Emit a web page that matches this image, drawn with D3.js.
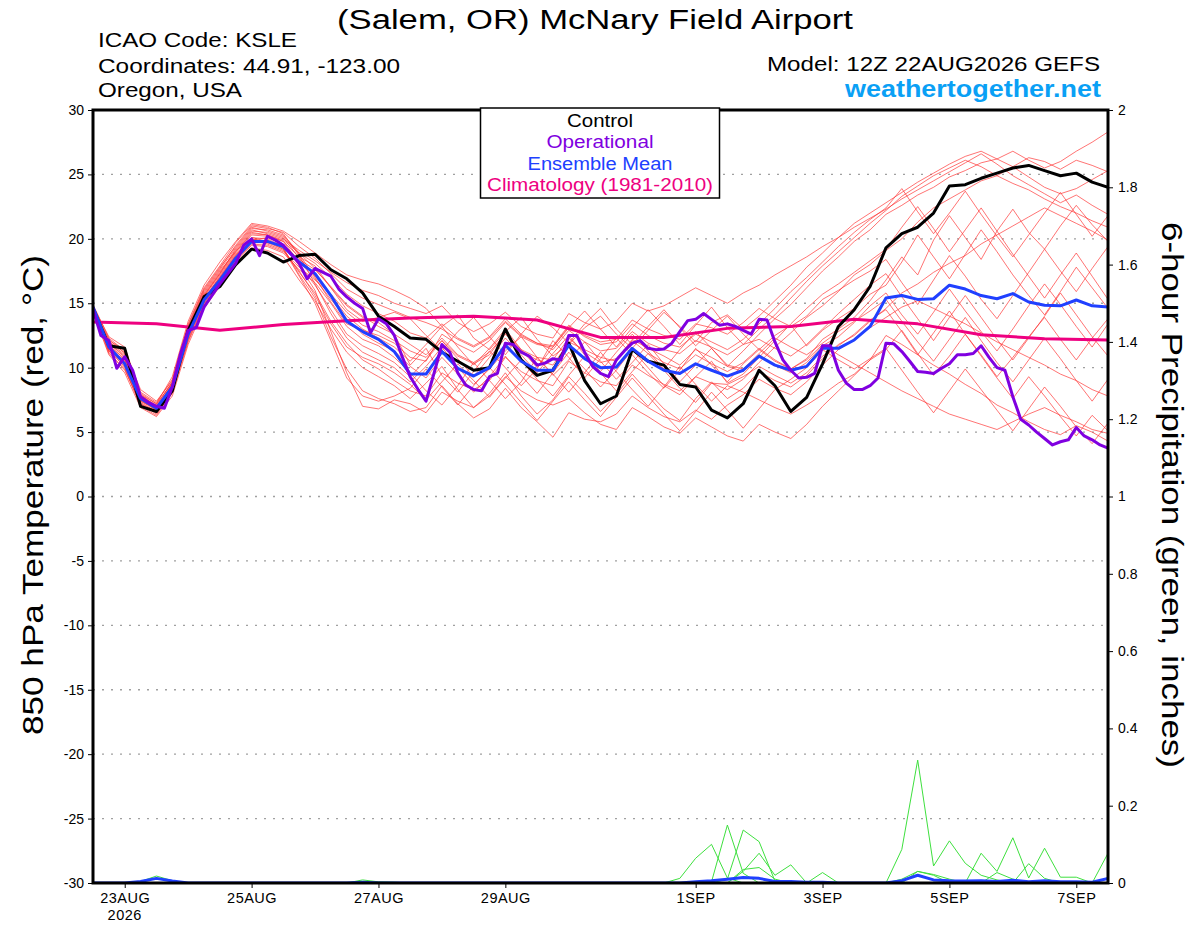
<!DOCTYPE html>
<html>
<head>
<meta charset="utf-8">
<script src="https://cdn.jsdelivr.net/npm/d3@7"></script>
<style>
  body { margin: 0; background: #fff; }
  svg { font-family: "Liberation Sans", Arial, Helvetica, sans-serif; }
</style>
</head>
<body>
<div id="svgContainer"></div>
<script>
// 6-hourly values from 12Z 22AUG2026 to 12Z 7SEP2026 (65 points)
var control = [14.6,11.7,11.5,7.0,6.6,8.2,12.9,15.5,16.3,18.0,
  19.2,18.9,18.2,18.7,18.8,17.6,16.9,15.8,14.0,13.2,
  12.3,12.2,11.2,10.5,9.8,10.0,13.0,10.6,9.4,9.8,
  11.9,9.0,7.2,7.8,11.4,10.5,10.2,8.7,8.5,6.7,
  6.1,7.2,9.8,8.6,6.6,7.7,10.3,13.2,14.5,16.3,
  19.3,20.4,20.9,22.0,24.1,24.2,24.7,25.1,25.5,25.7,
  25.3,24.9,25.1,24.4,24.0];

var ensembleMean = [14.7,11.6,10.3,7.6,6.85,8.5,12.6,15.25,16.8,18.5,
  19.8,19.8,19.4,18.2,17.3,15.6,13.6,12.8,12.2,11.25,
  9.5,9.5,11.25,9.95,9.35,10.0,11.75,10.5,9.8,9.8,
  11.75,10.7,10.0,10.05,11.5,10.5,9.8,9.55,10.3,9.8,
  9.35,9.8,10.9,10.2,9.8,10.1,11.5,11.5,12.15,13.2,
  15.4,15.6,15.3,15.35,16.4,16.1,15.6,15.35,15.75,15.1,
  14.85,14.8,15.25,14.8,14.7];

// operational run is 3-hourly (129 points)
var operational = [14.5,12.5,12.1,9.95,10.85,9.8,7.75,7.3,7.0,6.85,
  8.5,11.0,12.9,13.1,14.7,15.6,16.5,17.3,18.1,19.5,
  20.0,18.7,20.2,19.9,19.5,18.8,18.1,16.9,17.7,17.4,
  17.1,16.1,15.5,15.0,14.6,12.7,13.8,13.4,12.5,10.85,
  9.3,8.3,7.4,9.55,11.8,11.2,9.6,8.65,8.3,8.2,
  9.3,9.55,11.9,11.8,11.2,10.9,10.2,10.35,10.7,10.6,
  12.5,12.5,11.2,10.1,9.55,9.3,10.6,11.3,11.9,12.1,
  11.5,11.4,11.45,11.9,12.8,13.65,13.75,14.2,13.75,13.3,
  13.4,13.2,12.9,12.6,13.75,13.7,12.0,10.6,9.8,9.2,
  9.25,9.55,11.7,11.7,9.8,8.8,8.3,8.3,8.6,9.2,
  11.9,11.85,11.25,10.5,9.7,9.65,9.55,9.95,10.3,11.0,
  11.0,11.1,11.7,10.8,10.0,9.8,7.75,6.0,5.55,5.0,
  4.5,4.0,4.25,4.4,5.35,4.7,4.4,4.0,3.75];

// daily climatology at 12Z
var climatology = [13.55,13.4,12.9,13.35,13.65,13.85,14.0,13.7,12.35,12.35,13.05,13.2,13.75,13.4,12.55,12.25,12.15];

var member01 = [14.5,12.0,11.0,7.5,6.8,8.8,13.0,15.8,17.5,19.0, 20.5,20.3,19.8,18.6,17.9,16.2,14.8,13.9,13.5,12.6, 11.8,11.0,12.3,11.0,10.4,11.2,12.6,11.3,10.6,10.2, 12.0,11.4,10.8,10.5,12.2,11.5,10.9,10.2,11.4,10.8, 10.1,11.3,12.6,13.8,14.9,16.2,17.5,18.6,19.8,20.7, 21.9,22.6,23.4,24.0,24.8,25.3,25.9,26.2,26.8,26.1, 25.5,26.0,26.8,27.5,28.3];
var member02 = [14.8,12.4,11.6,8.0,7.2,9.3,13.6,16.4,18.2,19.8, 21.2,21.0,20.6,19.8,18.9,18.0,17.2,16.8,16.5,16.0, 15.4,14.6,13.2,14.1,12.3,11.4,12.8,13.9,12.2,10.9, 11.8,13.1,14.0,12.6,11.5,12.9,14.3,13.2,12.0,13.5, 14.1,13.0,14.0,15.2,16.4,17.8,18.9,20.1,21.2,22.0, 22.8,23.6,24.4,25.1,25.8,26.4,26.8,26.2,25.6,24.8, 24.0,23.5,23.9,24.6,25.3];
var member03 = [14.6,11.3,10.1,7.2,6.4,8.1,12.2,15.0,16.6,18.4, 19.9,20.1,19.6,17.9,16.0,12.8,9.6,7.0,6.8,7.5, 7.2,6.5,8.1,7.4,6.9,7.8,9.3,8.2,7.5,7.1, 7.6,6.5,5.6,5.2,6.9,6.2,5.4,4.9,6.1,5.4, 4.7,4.3,5.6,5.0,4.5,5.6,7.0,8.2,9.4,10.6, 12.5,11.8,11.0,10.2,9.5,8.7,8.0,7.1,6.5,5.8, 5.2,4.8,5.5,5.0,4.3];
var member04 = [14.4,11.8,10.6,7.9,7.0,8.6,12.4,15.3,17.1,18.8, 20.1,19.8,19.2,17.4,15.8,13.6,11.9,10.6,9.9,9.0, 8.2,7.8,9.6,8.8,8.3,9.0,10.8,9.7,9.0,8.6, 10.5,9.6,8.9,8.6,10.2,9.4,8.7,8.2,9.3,8.8, 8.3,9.1,10.4,11.6,12.7,13.9,14.8,15.9,17.2,18.0, 19.1,20.0,21.3,22.4,23.1,23.8,24.5,24.9,25.6,26.3, 26.0,25.4,26.1,25.7,25.2];
var member05 = [14.7,11.2,9.8,7.3,6.6,8.4,12.9,15.4,17.0,18.7, 20.0,19.7,19.5,18.4,17.6,16.3,14.9,14.0,13.2,12.6, 10.2,11.5,9.4,8.1,9.7,11.3,10.0,8.6,9.9,12.1, 10.8,9.2,10.7,12.3,11.0,9.6,8.4,9.8,11.5,10.2, 8.9,10.3,11.4,10.5,9.9,10.7,12.2,13.0,13.9,15.2, 16.8,18.6,17.2,19.9,21.8,20.1,18.4,20.6,22.3,20.5, 19.2,21.0,22.6,21.1,19.8];
var member06 = [14.5,11.5,10.0,7.0,6.3,8.0,12.0,14.8,16.4,18.2, 19.5,19.4,18.9,17.6,16.6,15.0,13.2,12.2,11.7,10.8, 9.6,8.2,7.1,8.6,10.4,9.0,7.6,8.9,10.8,9.5, 8.1,9.6,11.2,9.7,8.3,7.0,8.5,10.1,8.7,7.4, 8.6,8.1,7.5,6.9,6.4,7.1,7.9,8.8,9.5,10.6, 11.4,12.9,11.1,9.4,10.9,12.6,11.0,9.3,10.8,12.4, 13.9,12.2,10.6,12.3,13.8];
var member07 = [14.9,12.3,11.3,8.3,7.4,9.0,13.3,16.1,17.8,19.4, 20.9,20.6,20.2,18.8,17.0,15.1,13.4,12.9,12.5,11.9, 10.8,10.5,12.6,11.8,11.2,12.1,13.5,12.4,11.8,11.6, 13.2,12.5,12.0,12.2,13.7,13.0,12.5,12.2,13.4,13.1, 12.6,13.5,14.6,13.8,13.2,14.0,15.3,16.0,16.8,17.5, 18.4,16.6,14.9,16.8,18.7,17.1,15.3,13.8,15.6,17.4, 19.2,17.5,15.9,17.7,19.4];
var member08 = [14.3,11.0,9.6,6.9,6.2,7.8,11.8,14.6,16.3,18.0, 19.3,19.1,18.6,16.8,15.2,13.0,11.2,10.0,9.3,8.6, 7.6,8.8,10.1,8.3,6.9,8.0,9.6,7.8,6.4,7.5, 9.3,8.0,6.6,7.9,9.5,8.1,6.8,5.9,7.6,8.9, 7.6,8.4,9.7,9.0,8.5,9.4,10.7,11.8,12.5,13.6, 14.6,15.8,16.5,17.4,18.1,18.7,19.6,20.3,21.0,21.7, 22.4,21.8,21.2,20.6,19.9];
var member09 = [14.6,11.9,10.9,7.7,6.9,8.7,12.7,15.6,17.3,19.2, 20.7,20.4,20.0,19.1,18.3,17.4,16.6,16.0,15.6,15.0, 14.6,14.2,14.8,13.5,12.8,13.4,14.3,13.2,12.6,12.3, 14.2,13.5,13.0,13.6,15.0,14.4,14.8,15.5,16.2,15.6, 15.0,15.8,16.4,17.2,17.9,18.6,19.4,20.1,20.9,21.6, 22.3,23.1,23.8,24.5,25.2,25.9,26.6,25.8,24.9,24.2, 23.5,22.8,23.4,22.6,21.9];
var member10 = [14.7,11.4,10.4,7.4,6.7,8.5,12.5,15.1,16.8,18.5, 19.8,19.9,19.3,17.2,15.4,12.4,9.9,8.2,7.6,7.2, 6.6,6.9,8.6,7.2,6.1,6.8,8.4,6.9,5.8,4.6, 6.5,6.0,5.8,6.4,7.8,6.9,6.2,5.8,6.7,6.0, 7.1,7.9,9.1,8.4,7.9,8.9,10.2,11.4,12.2,13.1, 13.9,14.7,15.2,14.6,14.0,13.4,12.7,12.0,11.4,10.8, 10.2,9.5,9.0,8.3,7.8];
var member11 = [14.5,11.7,10.7,7.8,7.0,8.9,13.1,15.9,17.6,19.3, 20.8,20.7,20.3,18.9,17.7,16.2,14.5,13.6,13.9,14.3, 13.8,12.5,11.3,12.8,13.9,12.4,11.0,12.6,14.0,13.1, 11.9,13.4,14.6,13.0,11.8,13.2,14.5,13.1,11.7,12.9, 14.0,12.6,11.4,12.5,13.3,11.7,12.9,13.8,14.6,15.7, 16.4,18.2,20.3,18.6,16.9,18.8,20.7,19.0,17.2,15.6, 14.1,15.9,17.8,16.2,14.6];
var member12 = [14.8,12.1,11.4,8.1,7.3,9.1,13.4,16.2,17.9,19.7, 21.1,20.9,20.4,18.7,16.5,14.2,12.3,11.2,10.6,10.0, 8.9,10.1,11.6,10.0,8.7,9.9,11.3,12.4,10.8,9.4, 10.6,12.0,10.5,9.1,10.4,11.8,10.3,8.9,10.2,11.5, 10.1,9.7,11.0,10.2,9.6,10.4,11.7,12.4,13.5,14.8, 15.8,14.1,12.6,14.3,16.1,14.4,12.8,11.3,13.0,14.8, 16.5,14.9,13.2,11.6,13.4];
var member13 = [14.4,11.1,9.9,7.1,6.5,8.2,12.1,14.9,16.5,18.3, 19.6,19.5,19.0,17.8,16.8,15.7,14.3,13.3,12.8,12.1, 11.3,10.8,12.1,10.9,10.3,11.0,12.7,11.4,10.8,10.6, 12.3,11.2,10.4,10.7,12.1,11.1,10.4,9.9,11.0,10.3, 9.7,10.4,11.5,10.6,9.9,10.6,11.8,11.0,10.3,9.6, 8.9,8.2,7.6,7.0,6.4,6.0,5.6,5.2,5.8,6.4, 6.9,6.3,5.8,5.2,4.9];
var member14 = [14.6,11.6,10.2,7.6,6.9,8.6,12.8,15.5,17.2,18.9, 20.3,20.2,19.8,18.2,16.9,15.3,13.8,12.6,11.9,11.3, 10.1,9.2,10.8,9.5,8.1,9.3,10.9,9.4,8.0,9.6, 11.2,9.9,8.5,9.8,11.4,10.0,8.6,7.9,9.3,10.5, 8.8,9.5,10.8,12.1,13.4,14.6,15.7,16.5,17.4,18.3, 19.2,20.9,22.5,20.8,19.0,20.7,22.4,20.6,18.8,17.1, 15.4,17.2,18.9,17.1,15.3];
var member15 = [14.5,11.3,10.5,7.2,6.6,8.3,12.3,15.2,16.9,18.6, 19.9,19.6,19.1,17.5,15.6,13.4,11.6,10.8,10.3,9.6, 8.7,7.5,8.9,10.3,9.0,7.7,9.2,10.6,9.1,7.8, 9.4,10.9,9.6,8.2,9.7,11.1,9.8,8.4,7.3,8.8, 8.7,9.3,10.1,9.4,8.8,9.6,10.9,11.7,12.6,13.7, 14.5,12.8,11.0,12.7,14.4,12.6,10.9,9.2,7.6,9.3, 7.8,6.2,4.7,6.3,5.1];
var member16 = [14.7,12.2,11.1,7.8,7.1,8.9,13.2,16.0,17.7,19.5, 21.0,20.8,20.5,19.4,18.5,17.3,16.1,15.4,14.9,14.4, 13.9,13.5,13.0,12.2,11.6,12.3,13.6,12.5,11.9,11.4, 12.9,12.0,11.3,11.5,12.8,11.9,11.4,11.1,12.1,11.6, 11.0,11.8,13.0,14.1,15.4,16.7,17.9,19.0,20.1,21.2, 22.2,23.3,24.1,24.9,25.5,26.1,25.6,24.9,24.3,23.8, 23.1,22.5,22.0,21.4,20.9];
var member17 = [14.6,11.5,10.3,7.4,6.8,8.5,12.6,15.3,17.0,18.7, 20.1,20.0,19.4,18.0,16.4,14.5,12.6,11.7,11.1,10.4, 9.3,10.6,12.1,10.7,9.3,10.8,12.3,11.0,9.6,11.1, 12.5,11.0,9.7,11.2,12.6,11.3,9.9,11.4,12.8,11.5, 10.2,9.9,11.1,12.3,11.6,11.0,11.9,12.8,13.6,14.4, 15.3,13.6,12.0,10.5,12.2,13.9,12.1,10.4,8.9,10.6, 12.3,10.7,9.0,7.4,9.1];
var member18 = [14.8,11.9,10.8,7.9,7.2,8.8,12.9,15.7,17.4,19.1, 20.6,20.5,20.1,18.5,17.1,15.6,14.0,13.0,12.3,11.6, 10.5,11.8,13.2,11.6,10.2,11.5,13.0,11.4,10.0,11.6, 13.1,14.4,13.0,11.6,13.1,14.5,13.2,11.8,13.3,14.7, 13.1,11.8,12.2,11.5,10.9,11.8,13.0,14.2,15.3,16.4, 17.3,15.5,13.8,12.1,13.9,15.6,13.9,12.2,10.6,12.3, 14.0,15.8,14.1,12.4,10.9];
var member19 = [14.4,11.4,10.6,7.5,6.7,8.4,12.4,15.0,16.7,18.4, 19.7,19.7,19.2,17.1,15.0,12.1,9.2,7.8,7.4,7.8, 8.4,9.9,8.5,7.1,8.6,10.0,8.7,7.3,5.9,7.4, 8.9,7.5,6.2,7.7,9.2,7.8,6.4,5.1,6.6,8.1, 6.7,5.3,6.8,8.3,9.1,10.0,11.4,10.6,9.9,10.7, 11.5,9.8,8.1,6.5,8.2,9.9,8.3,6.7,5.1,6.8, 8.5,7.0,5.4,4.1,5.7];
var member20 = [14.6,12.0,11.2,7.6,6.8,8.7,12.8,15.6,17.3,19.0, 20.4,20.3,19.9,18.9,18.1,17.0,15.7,14.8,14.2,13.6, 12.7,12.3,13.4,12.3,11.7,12.4,13.8,12.6,11.9,11.7, 13.3,12.4,11.8,12.0,13.4,12.5,11.9,11.6,12.6,12.0, 11.4,12.2,13.4,14.6,15.9,17.0,18.2,19.4,20.5,21.5, 22.4,23.9,22.1,20.4,22.0,23.7,21.9,20.2,18.6,20.3, 22.0,23.6,21.9,20.2,21.8];
var members = [member01, member02, member03, member04, member05, member06, member07, member08, member09, member10,
  member11, member12, member13, member14, member15, member16, member17, member18, member19, member20];

// 6-hour precipitation (inches), members with rain and the ensemble mean
var precip01 = [0,0,0,0.004,0.018,0.006,0,0,0,0, 0,0,0,0,0,0,0,0,0,0, 0,0,0,0,0,0,0,0,0,0, 0,0,0,0,0,0,0,0.012,0.064,0.10, 0.013,0,0,0,0,0,0,0,0,0, 0,0,0,0,0,0,0,0.027,0.01,0, 0,0,0,0,0];
var precip02 = [0,0,0,0,0,0,0,0,0,0, 0,0,0,0,0,0,0,0.008,0.003,0.002, 0,0,0,0,0,0,0,0,0,0, 0,0,0,0,0,0,0,0,0,0.003, 0.15,0.025,0,0,0,0,0,0,0,0, 0,0.01,0.03,0.02,0,0,0,0,0,0, 0,0,0,0,0];
var precip03 = [0,0,0,0,0,0,0,0,0,0, 0,0,0,0,0,0,0,0,0,0, 0,0,0,0,0,0,0,0,0,0, 0,0,0,0,0,0,0,0,0,0, 0.01,0.137,0.107,0.005,0,0,0,0,0,0, 0,0,0,0,0,0,0.077,0.03,0.117,0.013, 0.09,0.015,0.015,0,0.077];
var precip04 = [0,0,0,0,0,0,0,0,0,0, 0,0,0,0,0,0,0,0,0,0, 0,0,0,0,0,0,0,0,0,0, 0,0,0,0,0,0,0,0,0,0, 0,0.03,0.077,0.02,0.047,0,0.027,0,0,0, 0,0.087,0.318,0.044,0.109,0.051,0.02,0.008,0,0, 0,0,0,0,0];
var precip05 = [0,0,0,0,0,0,0,0,0,0, 0,0,0,0,0,0,0,0,0,0, 0,0,0,0,0,0,0,0,0,0, 0,0,0,0,0,0,0,0,0,0, 0,0.035,0.04,0.01,0,0,0,0,0,0, 0,0,0.03,0.022,0.01,0,0,0,0,0.05, 0.012,0,0,0,0];
var precipMembers = [precip01, precip02, precip03, precip04, precip05];
var precipMean = [0,0,0,0.004,0.012,0.005,0,0,0,0, 0,0,0,0,0,0,0,0.002,0,0, 0,0,0,0,0,0,0,0,0,0, 0,0,0,0,0,0,0,0,0.003,0.006, 0.01,0.014,0.012,0.004,0.004,0.002,0.002,0,0,0, 0,0.006,0.02,0.008,0.006,0.005,0.006,0.004,0.007,0.003, 0.006,0.003,0.003,0.002,0.012];

// axis ticks
var tempTicks = [30, 25, 20, 15, 10, 5, 0, -5, -10, -15, -20, -25, -30];
var gridTicks = [25, 20, 15, 10, 5, 0, -5, -10, -15, -20, -25];
var precipTicks = [0, 0.2, 0.4, 0.6, 0.8, 1, 1.2, 1.4, 1.6, 1.8, 2];
var precipTickLabels = ["0", "0.2", "0.4", "0.6", "0.8", "1", "1.2", "1.4", "1.6", "1.8", "2"];
var dateTicks = ["2026-08-23", "2026-08-25", "2026-08-27", "2026-08-29", "2026-09-01", "2026-09-03", "2026-09-05", "2026-09-07"];
var dateTickLabels = ["23AUG", "25AUG", "27AUG", "29AUG", "1SEP", "3SEP", "5SEP", "7SEP"];

var legendItems = ["Control", "Operational", "Ensemble Mean", "Climatology (1981-2010)"];
var legendColors = ["#000000", "#8000e0", "#2040ff", "#ee0080"];
var legendWidths = [66, 107, 145, 226];

var width = 1200;
var height = 927;
var plot = { left: 93, right: 1108, top: 110, bottom: 883 };
var runStart = Date.UTC(2026, 7, 22, 12);
var hour = 3600 * 1000;

var svg = d3.select("#svgContainer")
  .append("svg").attr("width", width).attr("height", height);

var x = d3.scaleUtc()
  .domain([new Date(runStart), new Date(runStart + 384 * hour)])
  .range([plot.left, plot.right]);
var yTemp = d3.scaleLinear().domain([-30, 30]).range([plot.bottom, plot.top]);
var yPrecip = d3.scaleLinear().domain([0, 2]).range([plot.bottom, plot.top]);

svg.append("defs").append("clipPath").attr("id", "plotClip")
  .append("rect")
  .attr("x", plot.left).attr("y", plot.top)
  .attr("width", plot.right - plot.left).attr("height", plot.bottom - plot.top);

drawGrid();
drawPrecip();
drawTemps();
drawFrame();
drawAxes();
drawLegend();
drawTitles();

function series(values, stepHours, yScale) {
  return d3.line()
    .x(function(d, i) { return x(new Date(runStart + i * stepHours * hour)); })
    .y(function(d) { return yScale(d); })(values);
}

function path(values, stepHours, yScale, color, strokeWidth, opacity) {
  svg.append("path")
    .attr("clip-path", "url(#plotClip)")
    .attr("d", series(values, stepHours, yScale))
    .style("fill", "none")
    .style("stroke", color)
    .style("stroke-width", strokeWidth)
    .style("stroke-linejoin", "round")
    .style("opacity", opacity === undefined ? 1 : opacity);
}

// text squeezed/stretched to the width it takes in the original
function label(px, py, str, size, length, anchor) {
  return svg.append("text")
    .attr("x", px).attr("y", py)
    .attr("text-anchor", anchor || "start")
    .attr("textLength", length)
    .attr("lengthAdjust", "spacingAndGlyphs")
    .style("font-size", size + "px")
    .text(str);
}

function drawGrid() {
  svg.selectAll(".grid").data(gridTicks).enter()
    .append("line")
    .attr("class", "grid")
    .attr("x1", plot.left).attr("x2", plot.right)
    .attr("y1", function(d) { return yTemp(d); })
    .attr("y2", function(d) { return yTemp(d); })
    .style("stroke", "#a0a0a0")
    .style("stroke-width", 1.3)
    .style("stroke-dasharray", "2,7");
}

function drawPrecip() {
  precipMembers.forEach(function(p) {
    path(p, 6, yPrecip, "#3ee03e", 1);
  });
  path(precipMean, 6, yPrecip, "#2040ff", 3);
}

function drawTemps() {
  members.forEach(function(m) {
    path(m, 6, yTemp, "#ff3030", 0.9, 0.75);
  });
  path(climatology, 24, yTemp, "#ee0080", 3);
  path(control, 6, yTemp, "#000000", 3);
  path(ensembleMean, 6, yTemp, "#2040ff", 3);
  path(operational, 3, yTemp, "#8000e0", 3);
}

function drawFrame() {
  svg.append("rect")
    .attr("x", plot.left).attr("y", plot.top)
    .attr("width", plot.right - plot.left).attr("height", plot.bottom - plot.top)
    .style("fill", "none")
    .style("stroke", "#000")
    .style("stroke-width", 3);
}

function styleAxis(g, size) {
  g.select(".domain").remove();
  g.selectAll("text")
    .attr("font-family", "'Liberation Sans', Arial, sans-serif")
    .attr("font-size", size)
    .attr("fill", "#000");
  g.selectAll("line").style("stroke", "#000");
}

function drawAxes() {
  var parseDay = d3.utcParse("%Y-%m-%d");
  var left = svg.append("g")
    .attr("transform", "translate(" + plot.left + ",0)")
    .call(d3.axisLeft(yTemp).tickValues(tempTicks).tickSize(5).tickPadding(4)
      .tickFormat(function(d) { return String(d); }));
  styleAxis(left, 14);

  var right = svg.append("g")
    .attr("transform", "translate(" + plot.right + ",0)")
    .call(d3.axisRight(yPrecip).tickValues(precipTicks).tickSize(5).tickPadding(5)
      .tickFormat(function(d, i) { return precipTickLabels[i]; }));
  styleAxis(right, 14);

  var bottom = svg.append("g")
    .attr("transform", "translate(0," + plot.bottom + ")")
    .call(d3.axisBottom(x).tickValues(dateTicks.map(parseDay)).tickSize(5).tickPadding(5)
      .tickFormat(function(d, i) { return dateTickLabels[i]; }));
  styleAxis(bottom, 14.5);
  bottom.selectAll("text").attr("letter-spacing", 0.5);

  svg.append("text")
    .attr("x", x(parseDay(dateTicks[0])))
    .attr("y", 920)
    .attr("text-anchor", "middle")
    .attr("letter-spacing", 0.5)
    .style("font-size", "14.5px")
    .text("2026");
}

function drawLegend() {
  var box = { x: 480.5, y: 108, w: 239, h: 90 };
  svg.append("rect")
    .attr("x", box.x).attr("y", box.y)
    .attr("width", box.w).attr("height", box.h)
    .style("fill", "#fff")
    .style("stroke", "#000")
    .style("stroke-width", 1.5);
  legendItems.forEach(function(item, i) {
    label(box.x + box.w / 2, 127 + i * 21.3, item, 17.5, legendWidths[i], "middle")
      .style("fill", legendColors[i]);
  });
}

function drawTitles() {
  label(337, 29, "(Salem, OR) McNary Field Airport", 27, 516);

  label(98, 47, "ICAO Code: KSLE", 20, 199);
  label(98, 72.5, "Coordinates: 44.91, -123.00", 20, 302);
  label(98, 97, "Oregon, USA", 20, 144);

  label(1100, 70.5, "Model: 12Z 22AUG2026 GEFS", 20.5, 333, "end");
  label(1101, 96.5, "weathertogether.net", 23, 256, "end")
    .style("font-weight", "bold")
    .style("fill", "#0aa0f5");

  label(0, 0, "850 hPa Temperature (red, °C)", 30, 480, "middle")
    .attr("transform", "translate(43,495) rotate(-90)");

  label(0, 0, "6-hour Precipitation (green, inches)", 29, 546, "middle")
    .attr("transform", "translate(1162,495) rotate(90)");
}
</script>
</body>
</html>
